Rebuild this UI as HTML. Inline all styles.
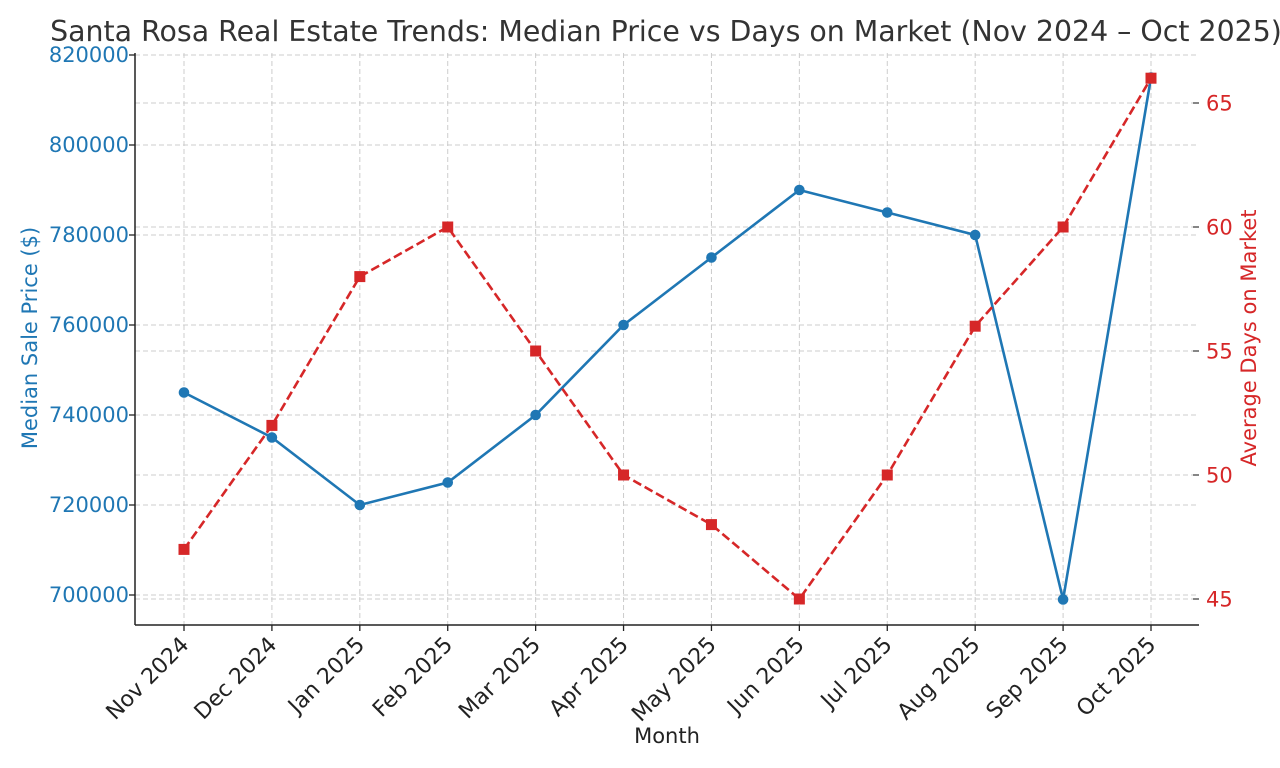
<!DOCTYPE html>
<html><head><meta charset="utf-8"><style>
body{margin:0;background:#fff;}
svg{display:block;font-family:"DejaVu Sans","Liberation Sans",sans-serif;}
</style></head><body>
<svg id="chart" width="1280" height="768" viewBox="0 0 1280 768">
<text x="666" y="41" text-anchor="middle" font-size="28.4" fill="#333">Santa Rosa Real Estate Trends: Median Price vs Days on Market (Nov 2024 – Oct 2025)</text>
<g id="grid"></g><g id="axes"></g><g id="series"></g>
<text x="667" y="743" text-anchor="middle" font-size="21" fill="#222">Month</text>
<text transform="translate(37,338) rotate(-90)" text-anchor="middle" font-size="21" fill="#1f77b4">Median Sale Price ($)</text>
<text transform="translate(1256,338) rotate(-90)" text-anchor="middle" font-size="21" fill="#d62728">Average Days on Market</text>
</svg>
<script>
const months=["Nov 2024","Dec 2024","Jan 2025","Feb 2025","Mar 2025","Apr 2025","May 2025","Jun 2025","Jul 2025","Aug 2025","Sep 2025","Oct 2025"];
const prices=[745000,735000,720000,725000,740000,760000,775000,790000,785000,780000,699000,815000];
const days=[47,52,58,60,55,50,48,45,50,56,60,66];
const priceTicks=[700000,720000,740000,760000,780000,800000,820000];
const dayTicks=[45,50,55,60,65];
const NS="http://www.w3.org/2000/svg";
const L=135,R=1199,T=53,B=625;
const x=i=>184+i*(1151-184)/11;
const yP=v=>595-(v-700000)*540/120000;
const yD=v=>599-(v-45)*496/20;
function mk(p,tag,a){const e=document.createElementNS(NS,tag);for(const k in a)e.setAttribute(k,a[k]);p.appendChild(e);return e;}
const G=document.getElementById('grid'),A=document.getElementById('axes'),S=document.getElementById('series');
months.forEach((m,i)=>{
 const g=mk(G,'line',{x1:x(i),x2:x(i),y1:T,y2:B,stroke:'#ccc','stroke-dasharray':'5,3','stroke-width':1});
 
 
 const t=mk(A,'line',{x1:x(i),x2:x(i),y1:B,y2:B+6,stroke:'#222','stroke-width':1.3});
 
 
 const lb=mk(A,'text',{'text-anchor':'end','font-size':22,fill:'#222',transform:`translate(${x(i)+6},${B+21}) rotate(-45)`});
 lb.textContent=m;
 
 
});
priceTicks.forEach(v=>{
 const g=mk(G,'line',{x1:L,x2:R,y1:yP(v),y2:yP(v),stroke:'#ccc','stroke-dasharray':'5,3','stroke-width':1});
 
 
 const t=mk(A,'line',{x1:L-6,x2:L,y1:yP(v),y2:yP(v),stroke:'#222','stroke-width':1.3});
 
 
 const lb=mk(A,'text',{x:L-6,y:yP(v)+7,'text-anchor':'end','font-size':21,fill:'#1f77b4'});
 lb.textContent=v;
 
 
});
dayTicks.forEach(v=>{
 const g=mk(G,'line',{x1:L,x2:R,y1:yD(v),y2:yD(v),stroke:'#ccc','stroke-dasharray':'5,3','stroke-width':1});
 
 
 const t=mk(A,'line',{x1:R-6,x2:R,y1:yD(v),y2:yD(v),stroke:'#444','stroke-width':1.3});
 
 
 const lb=mk(A,'text',{x:R+7,y:yD(v)+7.5,'font-size':21,fill:'#d62728'});
 lb.textContent=v;
 
 
});
const ls=mk(A,'line',{x1:L,x2:L,y1:T,y2:B,stroke:'#222','stroke-width':1.5});


const bs=mk(A,'line',{x1:L,x2:R,y1:B,y2:B,stroke:'#222','stroke-width':1.5});


const pl=mk(S,'polyline',{points:prices.map((v,i)=>x(i)+','+yP(v)).join(' '),fill:'none',stroke:'#1f77b4','stroke-width':2.6});


prices.forEach((v,i)=>{
 const c=mk(S,'circle',{cx:x(i),cy:yP(v),r:5.3,fill:'#1f77b4'});
 
 
});
const dl=mk(S,'polyline',{points:days.map((v,i)=>x(i)+','+yD(v)).join(' '),fill:'none',stroke:'#d62728','stroke-width':2.6,'stroke-dasharray':'9,4'});


days.forEach((v,i)=>{
 const r=mk(S,'rect',{x:x(i)-5.5,y:yD(v)-5.5,width:11,height:11,fill:'#d62728'});
 
 
});
</script>
</body></html>
